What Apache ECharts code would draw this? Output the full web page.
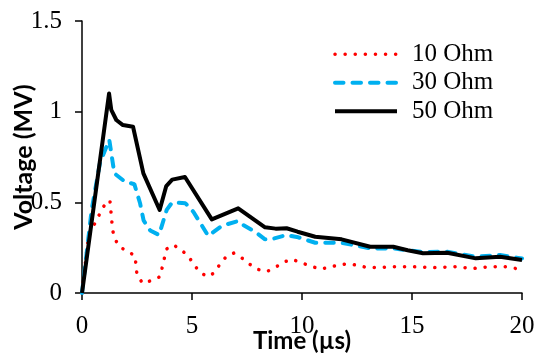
<!DOCTYPE html>
<html>
<head>
    <meta charset="utf-8">
    <title>Voltage vs time</title>
    <style>
        html, body { margin: 0; padding: 0; background: #fff; }
    </style>
</head>
<body>
    <div id="main" style="width: 535px; height: 353px;"></div>
    <script src="https://cdn.jsdelivr.net/npm/echarts@6/dist/echarts.min.js"></script>
    <script type="text/javascript">
        // [time (us), voltage (MV)]
        var ohm10 = [
            [0, 0], [0.29, 0.31], [0.67, 0.406], [1.09, 0.5], [1.27, 0.51], [1.33, 0.43],
            [1.39, 0.347], [1.5, 0.296], [1.73, 0.252], [2.08, 0.23], [2.41, 0.204], [2.5, 0.1],
            [2.76, 0.053], [3.17, 0.07], [3.55, 0.09], [3.7, 0.17], [3.85, 0.243], [4.15, 0.265],
            [4.5, 0.24], [4.85, 0.2], [5.1, 0.155], [5.35, 0.115], [5.7, 0.09], [6.0, 0.11],
            [6.25, 0.155], [6.55, 0.2], [6.9, 0.22], [7.3, 0.19], [7.6, 0.16], [8.0, 0.13],
            [8.4, 0.118], [8.8, 0.142], [9.15, 0.17], [9.55, 0.186], [9.95, 0.167], [10.4, 0.149],
            [10.8, 0.132], [11.2, 0.14], [11.6, 0.153], [12.0, 0.16], [12.5, 0.154], [12.9, 0.142],
            [13.4, 0.14], [14.2, 0.145], [15, 0.145], [16, 0.14], [17, 0.145], [17.8, 0.135],
            [18.5, 0.145], [19.2, 0.145], [20, 0.13]
        ];
        var ohm30 = [
            [0, 0], [0.44, 0.46], [0.82, 0.72], [1.24, 0.845], [1.47, 0.66], [1.95, 0.614],
            [2.38, 0.6], [2.64, 0.495], [2.8, 0.4], [3.1, 0.345], [3.5, 0.32], [3.85, 0.458],
            [4.1, 0.5], [4.7, 0.495], [5.06, 0.448], [5.74, 0.315], [6.35, 0.37], [7.1, 0.397],
            [7.33, 0.375], [7.86, 0.338], [8.32, 0.296], [8.7, 0.3], [9.3, 0.32], [9.83, 0.307],
            [10.6, 0.277], [11.8, 0.277], [13.1, 0.246], [14.15, 0.246], [14.8, 0.235],
            [15.5, 0.226], [16.6, 0.228], [17.9, 0.2], [19, 0.21], [20, 0.19]
        ];
        var ohm50 = [
            [0, 0], [1.23, 1.1], [1.33, 1.01], [1.56, 0.954], [1.86, 0.926], [2.32, 0.917],
            [2.79, 0.66], [3.53, 0.458], [3.83, 0.59], [4.1, 0.625], [4.68, 0.64], [5.9, 0.406],
            [7.1, 0.467], [8.32, 0.362], [8.8, 0.355], [9.3, 0.357], [9.8, 0.338], [10.6, 0.31],
            [11.8, 0.296], [13.1, 0.255], [14.15, 0.255], [14.8, 0.236], [15.5, 0.219],
            [16.6, 0.222], [17.9, 0.191], [19.0, 0.2], [20, 0.182]
        ];
        var seriesNames = ['10 Ohm', '30 Ohm', '50 Ohm'];

        var dotted = { color: '#ff0000', width: 3.5, type: [0.1, 10], cap: 'round' };
        var dashed = { color: '#00b0f0', width: 4, type: [8.5, 9], cap: 'round' };
        var solid = { color: '#000000', width: 4, type: 'solid', cap: 'butt', join: 'round' };

        var serif = 'Liberation Serif';
        var chart = echarts.init(document.getElementById('main'));

        var option = {
            animation: false,
            backgroundColor: '#ffffff',
            grid: { left: 82, right: 13, top: 21, bottom: 60, outerBoundsMode: 'none' },
            legend: {
                orient: 'vertical',
                left: 333,
                top: 40,
                padding: 0,
                itemWidth: 62,
                itemHeight: 14,
                itemGap: 0,
                itemStyle: { opacity: 0 },
                textStyle: { fontFamily: serif, fontSize: 25, color: '#000', lineHeight: 28.5, padding: [0, 0, 0, 10] },
                data: [
                    { name: seriesNames[0], lineStyle: dotted },
                    { name: seriesNames[1], lineStyle: dashed },
                    { name: seriesNames[2], lineStyle: solid }
                ]
            },
            xAxis: {
                type: 'value',
                min: 0, max: 20, interval: 5,
                name: 'Time (\u00b5s)',
                nameLocation: 'middle',
                nameGap: 36,
                nameMoveOverlap: false,
                nameTextStyle: { fontFamily: 'Lato', fontWeight: 'bold', fontSize: 24, color: '#000' },
                axisLine: { lineStyle: { color: '#000', width: 1.5 } },
                axisTick: { length: 7, lineStyle: { color: '#000', width: 1.5 } },
                axisLabel: { margin: 21, fontFamily: serif, fontSize: 25, color: '#000' },
                splitLine: { show: false }
            },
            yAxis: {
                type: 'value',
                min: 0, max: 1.5, interval: 0.5,
                name: 'Voltage (MV)',
                nameLocation: 'middle',
                nameGap: 46,
                nameMoveOverlap: false,
                nameTextStyle: { fontFamily: 'Lato', fontWeight: 'bold', fontSize: 25, color: '#000' },
                axisLine: { show: true, lineStyle: { color: '#000', width: 1.5 } },
                axisTick: { show: true, length: 7, lineStyle: { color: '#000', width: 1.5 } },
                axisLabel: { margin: 20, fontFamily: serif, fontSize: 25, color: '#000' },
                splitLine: { show: false }
            },
            series: [
                { name: seriesNames[0], type: 'line', data: ohm10, symbol: 'none', lineStyle: dotted, itemStyle: { color: dotted.color } },
                { name: seriesNames[1], type: 'line', data: ohm30, symbol: 'none', lineStyle: dashed, itemStyle: { color: dashed.color } },
                { name: seriesNames[2], type: 'line', data: ohm50, symbol: 'none', lineStyle: solid, itemStyle: { color: solid.color } }
            ]
        };

        chart.setOption(option);
    </script>
</body>
</html>
